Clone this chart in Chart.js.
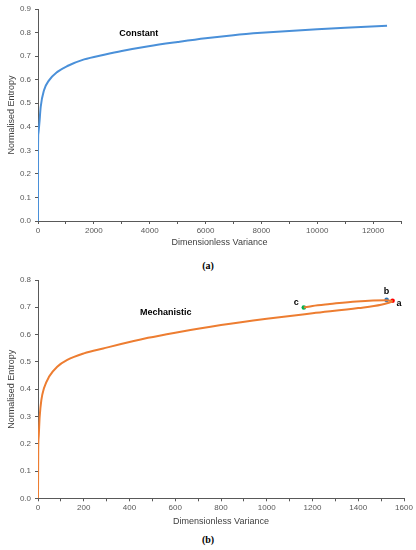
<!DOCTYPE html>
<html>
<head>
<meta charset="utf-8">
<script src="https://cdn.jsdelivr.net/npm/chart.js@4"></script>
<style>
  body { margin: 0; background: #fff; width: 416px; height: 550px; position: relative; overflow: hidden; }
  canvas { position: absolute; left: 0; }
  #chartA { top: 0; }
  #chartB { top: 270px; }
  .cap { position: absolute; width: 416px; text-align: center; font-family: "Liberation Serif", serif; font-weight: bold; font-size: 10px; color: #000; }
</style>
</head>
<body>
<canvas id="chartA" width="416" height="250"></canvas>
<div class="cap" style="top:260px">(a)</div>
<canvas id="chartB" width="416" height="260"></canvas>
<div class="cap" style="top:534px">(b)</div>
<script>
// (a) constant
var constX = [0, 1, 10, 48, 96, 215, 395, 694, 1053, 1652, 2370, 3000, 3960, 5000, 6000, 7000, 8000, 9000, 10000, 11000, 12500];
var constY = [0, 0.30, 0.37, 0.414, 0.484, 0.555, 0.597, 0.633, 0.658, 0.686, 0.706, 0.722, 0.742, 0.76, 0.776, 0.789, 0.799, 0.807, 0.814, 0.82, 0.829];

// (b) mechanistic: lower branch out to a, then upper branch c -> b -> a
var mechX = [0, 1, 3, 7.3, 14.6, 26, 48, 84, 128, 201, 285, 481, 600, 800, 1000, 1200, 1400, 1500, 1550];
var mechY = [0, 0.18, 0.226, 0.299, 0.36, 0.403, 0.445, 0.482, 0.507, 0.531, 0.549, 0.588, 0.607, 0.635, 0.658, 0.678, 0.697, 0.709, 0.721];
var backX = [1162, 1200, 1276, 1393, 1524, 1550];
var backY = [0.699, 0.705, 0.712, 0.7215, 0.726, 0.723];

var pointNames = ['a', 'b', 'c'];
var pointX = [1550, 1524, 1162];
var pointY = [0.724, 0.727, 0.699];
var pointColors = ['#ff0000', '#2e75b6', '#00b050'];

var tickFont = { family: 'Liberation Sans', size: 8 };
var titleFont = { family: 'Liberation Sans', size: 9 };

function toXY(xs, ys) {
    var out = [];
    for (var i = 0; i < xs.length; i++) out.push({ x: xs[i], y: ys[i] });
    return out;
}

function makeScales(xMax, xStep, xLabelStep, yMax, xHeight) {
    return {
        x: {
            type: 'linear', min: 0, max: xMax,
            ticks: {
                stepSize: xStep, color: '#595959', font: tickFont, maxRotation: 0, autoSkip: false, padding: 2,
                callback: function (v) { return v % xLabelStep === 0 ? v : ''; }
            },
            grid: { drawOnChartArea: false, tickLength: 3, color: '#595959' },
            border: { color: '#595959' },
            title: { display: true, text: 'Dimensionless Variance', color: '#404040', font: titleFont, padding: { top: 0, bottom: 0 } },
            afterFit: function (s) { s.height = xHeight; }
        },
        y: {
            min: 0, max: yMax,
            ticks: {
                stepSize: 0.1, color: '#595959', font: tickFont, padding: 4,
                callback: function (v) { return v.toFixed(1); }
            },
            grid: { drawOnChartArea: false, tickLength: 3, color: '#595959' },
            border: { color: '#595959' },
            title: { display: true, text: 'Normalised Entropy', color: '#404040', font: titleFont, padding: { top: 6, bottom: 0 } },
            afterFit: function (s) { s.width = 38; }
        }
    };
}

var textPlugin = {
    id: 'notes',
    afterDatasetsDraw: function (chart, args, opts) {
        var c = chart.ctx;
        c.save();
        c.fillStyle = '#000';
        c.font = 'bold 9px "Liberation Sans"';
        c.textBaseline = 'middle';
        opts.items.forEach(function (it) {
            c.textAlign = it.align || 'left';
            c.fillText(it.text, chart.scales.x.getPixelForValue(it.x) + (it.dx || 0), chart.scales.y.getPixelForValue(it.y) + (it.dy || 0));
        });
        c.restore();
    }
};

new Chart(document.getElementById('chartA'), {
    type: 'scatter',
    data: {
        datasets: [{
            data: toXY(constX, constY), showLine: true, borderColor: '#4a90d9', borderWidth: 2,
            pointRadius: 0, cubicInterpolationMode: 'monotone'
        }]
    },
    options: {
        responsive: false, animation: false,
        layout: { padding: { top: 9, right: 15, left: 0, bottom: 2 } },
        plugins: {
            legend: { display: false }, tooltip: { enabled: false },
            notes: { items: [{ text: 'Constant', x: 2910, y: 0.797 }] }
        },
        scales: makeScales(13000, 1000, 2000, 0.9, 27)
    },
    plugins: [textPlugin]
});

var markers = [];
for (var i = 0; i < pointNames.length; i++) {
    markers.push({
        data: [{ x: pointX[i], y: pointY[i] }], pointRadius: 2.3, pointBackgroundColor: pointColors[i],
        pointBorderWidth: 0, showLine: false
    });
}

new Chart(document.getElementById('chartB'), {
    type: 'scatter',
    data: {
        datasets: [{
            data: toXY(mechX, mechY), showLine: true, borderColor: '#ed7d31', borderWidth: 2,
            pointRadius: 0, cubicInterpolationMode: 'monotone'
        }, {
            data: toXY(backX, backY), showLine: true, borderColor: '#ed7d31', borderWidth: 2,
            pointRadius: 0, cubicInterpolationMode: 'monotone'
        }].concat(markers)
    },
    options: {
        responsive: false, animation: false,
        layout: { padding: { top: 10, right: 12, left: 0, bottom: 3 } },
        plugins: {
            legend: { display: false }, tooltip: { enabled: false },
            notes: {
                items: [
                    { text: 'Mechanistic', x: 446, y: 0.681 },
                    { text: 'a', x: 1550, y: 0.724, dx: 4, dy: 3 },
                    { text: 'b', x: 1524, y: 0.727, dy: -8, align: 'center' },
                    { text: 'c', x: 1162, y: 0.699, dx: -5, dy: -5, align: 'right' }
                ]
            }
        },
        scales: makeScales(1600, 100, 200, 0.8, 28.7)
    },
    plugins: [textPlugin]
});
</script>
</body>
</html>
